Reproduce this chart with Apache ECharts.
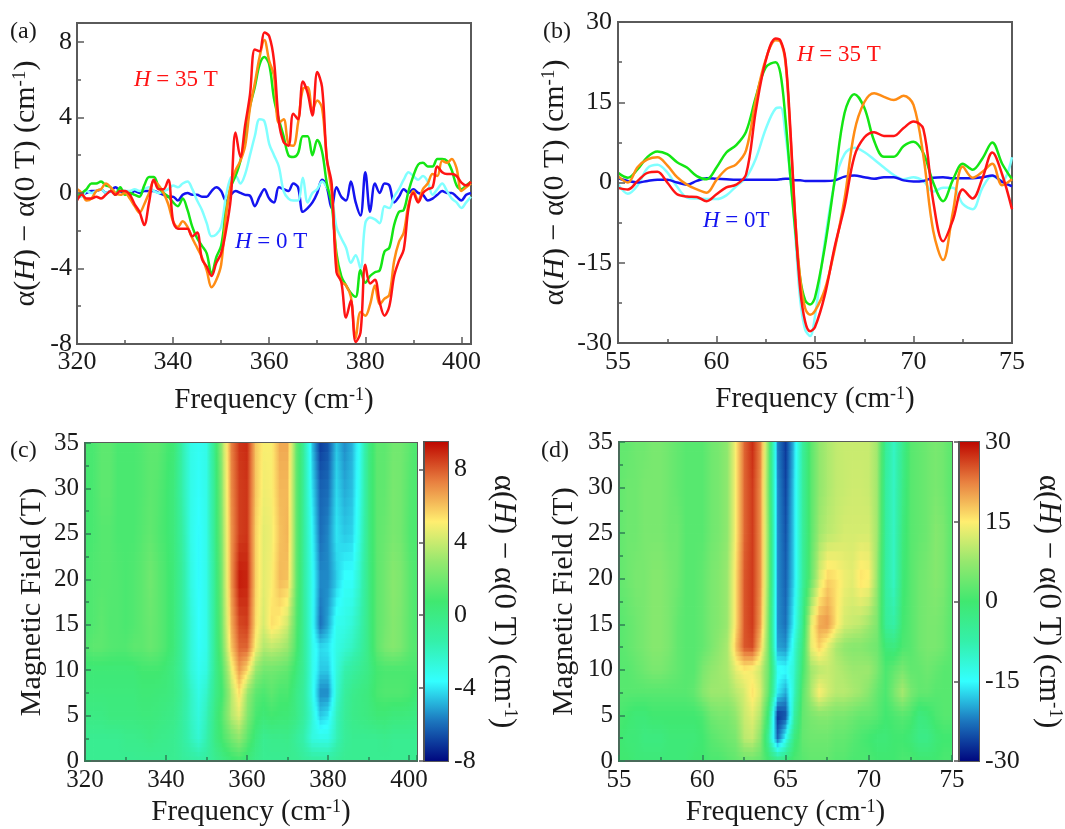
<!DOCTYPE html>
<html><head><meta charset="utf-8">
<script src="https://cdn.jsdelivr.net/npm/echarts@6/dist/echarts.min.js"></script>
<style>html,body{margin:0;padding:0;background:#fff}#c{width:1065px;height:829px}</style>
</head><body><div id="c"></div>
<script>
// ---------- panel (a) ----------
const freqA = [320,321,322,323,324,325,326,327,328,329,330,331,332,333,334,335,336,337,338,339,340,341,342,343,344,345,346,347,348,349,350,351,352,353,354,355,356,357,358,359,360,361,362,363,364,365,366,367,368,369,370,371,372,373,374,375,376,377,378,379,380,381,382,383,384,385,386,387,388,389,390,391,392,393,394,395,396,397,398,399,400,401,402];
const blueA = [-0.3,-0.1,0.0,0.1,0.1,0.2,0.0,0.1,0.3,0.1, 0.0,-0.1,0.1,0.0,0.1,0.1,0.1,0.0,-0.1,-0.2, -0.2,-0.4,-0.1,0.0,-0.1,-0.1,-0.2,-0.2,0.1,0.3, 0.1,-0.4,-0.1,0.1,0.0,-0.1,-0.15,-0.7,-0.2,0.2, -0.3,-0.5,0.3,0.2,0.1,0.5,0.3,-1.0,-0.8,-0.5, 0.0,0.7,0.3,-0.8,0.3,-0.2,-0.4,0.6,-0.5,-1.2, 1.1,-1.0,0.5,0.0,0.5,0.4,-0.5,-0.2,0.2,0.0, 0.2,0.0,-0.1,-0.4,-0.3,-0.1,0.1,0.0,0.0,-0.2, -0.4,-0.1,0.0];
const cyanA = [0.0,-0.2,0.1,0.0,0.1,0.2,0.0,0.1,0.0,0.2, 0.1,0.1,0.2,0.1,0.2,0.3,0.1,0.0,0.1,0.2, 0.4,0.3,0.5,0.6,0.2,-0.4,-0.9,-1.6,-2.3,-2.2, -1.8,-0.2,0.8,0.9,0.5,1.0,2.0,3.0,3.9,3.8, 2.6,2.0,1.4,0.1,-0.3,-0.4,-0.4,0.8,-0.5,0.0, 0.2,0.6,0.3,-0.2,-1.8,-2.4,-2.9,-3.7,-3.3,-4.0, -1.6,-1.3,-1.4,-1.6,-0.7,-0.8,-0.2,0.2,0.7,1.1, 0.9,0.7,0.9,0.6,-0.1,0.2,0.5,0.1,-0.3,-0.5, -0.8,-0.5,-0.2];
const greenA = [-0.2,0.0,0.2,0.5,0.5,0.6,0.4,0.3,-0.1,0.3, -0.1,0.0,-0.1,-0.2,0.4,0.85,0.85,0.3,0.0,-0.2, -0.5,-0.7,-0.3,-0.9,-1.8,-2.4,-2.8,-3.2,-4.3,-3.4, -2.8,-1.0,0.3,0.9,1.7,3.0,4.6,5.6,6.8,7.2, 6.8,5.0,3.9,3.0,2.0,1.9,2.1,3.0,3.0,2.0, 2.8,2.2,0.5,-0.6,-3.2,-4.4,-4.9,-5.3,-5.5,-4.1, -4.75,-4.4,-4.2,-4.1,-3.1,-2.9,-1.7,-1.0,-0.9,0.1, 0.9,1.5,1.6,1.4,1.4,1.8,1.8,1.7,1.2,0.4, 0.2,0.4,0.6];
const orangeA = [0.2,0.0,-0.4,-0.3,0.1,0.2,0.5,0.3,0.0,-0.1, 0.0,-0.3,-0.7,-1.05,-0.6,0.0,0.6,0.4,0.0,-0.6, -1.5,-1.8,-1.5,-1.8,-2.4,-2.9,-3.4,-4.1,-5.0,-4.6, -3.8,-1.2,0.4,1.2,1.7,2.5,4.5,5.8,7.2,8.1, 7.0,6.2,3.7,3.9,2.6,2.5,3.7,5.5,5.6,4.4, 4.9,4.5,1.8,0.0,-3.5,-4.7,-4.9,-5.5,-7.7,-6.3, -6.5,-5.9,-4.9,-5.9,-5.6,-5.4,-3.6,-2.6,-2.1,-0.6, 0.1,-0.4,0.2,0.5,1.0,0.9,1.7,1.6,1.8,1.3, 0.1,0.3,0.5];
const redA = [-0.4,-0.1,-0.3,-0.3,-0.2,-0.3,-0.1,0.1,-0.1,0.1, 0.1,-0.1,-0.6,-1.0,-1.7,-0.5,0.7,0.2,0.2,0.7, -1.5,-1.9,-1.9,-1.9,-2.3,-2.1,-3.5,-3.9,-4.4,-3.7, -3.2,-2.0,-0.3,3.2,1.9,3.6,5.2,7.6,7.5,8.5, 8.3,7.0,3.8,2.7,2.5,4.2,3.9,5.9,5.3,4.1, 6.4,5.6,1.8,0.5,-4.2,-4.7,-6.6,-5.7,-7.9,-7.4, -3.8,-4.8,-4.6,-5.8,-6.5,-6.0,-4.4,-3.6,-3.0,-0.8, 0.0,-0.5,0.0,0.2,0.3,1.4,1.1,1.0,1.0,0.9, 0.55,0.4,0.6];

// ---------- panel (b) ----------
const freqB = [55,55.5,56,56.5,57,57.5,58,58.5,59,59.5,60,60.5,61,61.5,62,62.5,63,63.25,63.5,63.75,64,64.25,64.5,64.75,65,65.5,66,66.5,67,67.5,68,68.5,69,69.5,70,70.5,71,71.5,72,72.5,73,73.5,74,74.5,75];
const blueB = [0.8,0.3,0,0.3,0.5,0.5,0,-0.4,0.3,0.8,0.7,0.6,0.5,0.5,0.5,0.5,0.5,0.6,0.7,0.7,0.4,0.4,0.3,0.3,0.3,0.3,0.4,1.1,1.3,1,0.7,1,1,0.4,0.2,0.3,0.9,1,0.8,0.8,0.8,1,1.3,0.1,-0.7];
const cyanB = [-0.3,-2.1,-0.5,2.7,3.3,1.9,-0.8,-2.8,-3,-3.1,-3.1,-2.4,-0.7,0.9,4.5,10,13.8,14,9,1,-10,-22,-27.5,-28.7,-25,-11,0,5.3,6.5,5.7,4.3,2.8,1.4,0.6,1,0.3,-1.7,-1,-1,-4,-5,-1,1.2,0.3,4.7];
const greenB = [1.8,0.9,2.5,4.8,5.8,5.3,3.8,2.8,1.2,0.6,2.8,5.6,7,9.5,16,21.5,22.5,20.3,12,1,-9,-18,-22,-22.8,-21.5,-12,0.5,13,16.5,14,7.8,4.8,4.8,6.8,7.6,5.5,0,-3.5,0.5,3.5,2.4,4.5,7.5,3.5,0.6];
const orangeB = [1.2,0,2.9,4.3,4.7,3.2,1,-0.4,-1.3,-1.9,0.5,2.5,3.4,6,15.5,23,26.6,26.3,22.5,9,-7,-18,-23.5,-24.7,-24,-20,-12.5,-3,9.5,15,16.7,16,15.4,16.2,14.5,5,-9,-14.5,-5.5,3,0.9,2,3.5,-0.5,0.6];
const redB = [-1,-1.3,0.3,1.8,2,0,-2.2,-2.6,-2.7,-3.5,-2.2,-0.9,-0.4,1.5,13.5,22.8,26.9,26.5,23,10,-7,-20,-26,-27.8,-27,-21,-12,-4.5,4.9,8.4,9.4,8.7,8.7,10.2,11.4,10,-3.5,-11,-7,-1.3,-3,0.8,5.6,1.5,-5];

// ---------- panel (c) ----------
const fieldRows = [0,2.5,5,7.5,10,12.5,15,20,25,30,35];
const freqC = [320,322,324,326,328,330,332,334,336,338,340,342,344,346,348,350,352,354,356,358,360,362,364,366,368,370,372,374,376,378,380,382,384,386,388,390,392,394,396,398,400,402];
const mapC = [
 [-.5,-.5,-.5,-.5,-.5, -.5,-.5,-.5,-.5,-.5, -.5,-.5,-.8,-1,-1.2, -1,-.5,0,.5,.8, .3,-.2,-.5,-.5,-.5, -.5,-.5,-.8,-1,-1, -1,-.8,-.5,-.5,-.5, -.5,-.5,-.5,-.5,-.5, -.5,-.5],
 [-.5,-.5,-.5,-.5,-.5, -.3,-.3,-.2,0,-.2, -.3,-.5,-1,-1.8,-2.5, -1.5,0,1,2,2.8, 1.5,.3,-.5,-.3,-.3, -.2,-.8,-1.5,-2.8,-3, -3,-1.8,-.8,-.5,-.5, -.5,-.5,-.3,-.5,-.5, -.5,-.5],
 [0,0,0,.2,.2, .2,.2,.3,.3,.2, 0,-.2,-1,-2,-2.8, -1.8,0,1.5,3.5,4.5, 2.5,1,.5,.8,.6, .5,0,-1,-2.5,-4.5, -4,-2,-.8,-.2,0, .2,.5,.5,.3,.3, .2,0],
 [.3,.3,.3,.3,.3, .3,.3,.5,.5,.4, .3,0,-.8,-2,-3, -2.2,-.3,1,3.5,5.5, 3,1.5,1,1.5,1, 1,0,-1,-3,-5.5, -5.5,-2.5,-1,-.3,0, .3,1,1.2,1.2,1.2, 1,.5],
 [.5,.5,.5,.5,.5, .5,.5,.8,.8,.8, .5,0,-1,-2.5,-3.3, -2.8,-.5,1.5,4.5,6.8, 5.5,3,2,2,1.8, 1.5,.5,-.8,-3,-4.5, -4.5,-2.8,-1.5,-1,-.5, 0,.8,1,1,1, 1,1],
 [1.2,1.5,1.5,1.3,1.2, 1.2,1.5,1.5,1.8,1.5, 1,.3,-1,-2.5,-3.5, -3,-.5,2.2,5.8,7.8, 7.8,5,3.5,3.8,3.5, 3,1.2,-.8,-3,-4.2, -4,-3,-2.5,-2,-1.2, 0,1.5,2.2,2.5,2.2, 1.5,1.2],
 [1,1.2,1.5,1.2,1.2, 1,1.2,1.5,1.8,1.5, 1,.3,-1,-2.5,-3.6, -3,-.5,2.5,6.3,8.3, 8.5,5.6,4.2,5.5,5, 4,1.5,-.8,-3.2,-6, -5,-3.2,-3,-2.5,-1.5, 0,1.5,2,2.5,2.2, 1.5,1],
 [1,1.2,1.3,1.3,1.2, 1,1.2,1.5,2,1.5, 1,.3,-1,-2.8,-3.7, -3,-.5,2.8,6.8,9.2, 9,5.8,4.5,5,6.2, 6,2,-1,-3.2,-5.5, -5.5,-4.5,-3.5,-3.5,-2, 0,1.5,2,2.6,2.3, 1.5,1],
 [.8,1,1.3,1.3,1, 1,1,1.3,1.6,1.2, .8,.2,-1.2,-3,-3.7, -3,-.3,3,6.8,8.5, 8.7,5.8,4.5,4.8,6, 6.3,2,-1,-3.5,-6, -5.5,-4,-4.5,-4.3,-2.5, 0,1.5,1.8,2.2,2, 1.2,1],
 [.8,1,1.5,1.5,1, 1,1,1.2,1.5,1.3, .8,.2,-1.5,-3,-3.5, -3,-.3,3.2,7,8.5, 8.7,6,4.8,5,6.2, 6.2,2,-1,-4,-6.2, -6,-4.2,-5,-4.6,-2.8, 0,1.5,1.6,2.2,2, 1.3,1],
 [1,1,1.5,1.5,1, 1,1,1.2,1.5,1.5, 1,.5,-1.5,-3,-3.3, -3,0,3.5,7.2,8.7, 8.9,6,5,5,6.5, 6.5,2,-1,-4.5,-7, -6.5,-4.5,-5.5,-4.8,-3, 0,1.5,1.5,2,2, 1.5,1]
];

// ---------- panel (d) ----------
const freqD = [55,55.5,56,56.5,57,57.5,58,58.5,59,59.5,60,60.5,61,61.5,62,62.5,63,63.5,64,64.5,65,65.5,66,66.5,67,67.5,68,68.5,69,69.5,70,70.5,71,71.5,72,72.5,73,73.5,74,74.5,75];
const mapD = [
 [0,0,-1,-1,-1, -1,-1,-1,-1,0, 0,1,1,2,3, 4,4,3,0,-3, -2,1,2,3,3, 3,2,2,1,1, 1,0,0,0,1, 1,0,0,0,1, 1],
 [0,-1,-1,-2,-2, -2,-1,-1,-1,-1, 0,2,3,4,5, 10,11,6,-7,-24, -14,-2,3,4,4, 4,3,3,2,1, 0,-1,-1,0,0, -1,-3,-3,-1,0, 0],
 [1,0,-1,-1,0, 0,0,0,0,0, 1,4,5,5,7, 11,13,9,-3,-27, -25,-7,3,5,6, 6,5,5,4,3, 3,2,0,1,2, 1,-2,-1,1,2, 2],
 [2,2,2,2,2, 2,2,2,2,3, 6,8,8,8,10, 12,16,12,2,-16, -20,-10,2,9,15, 12,10,10,9,8, 6,3,1,5,9, 5,3,3,2,2, 2],
 [2,2,3,4,5, 5,4,3,2,2, 5,7,8,9,13, 15,14,11,3,-14, -15,-11,0,8,10, 11,10,9,8,8, 8,5,1,3,5, 3,3,4,3,2, 2],
 [2,3,4,5,6, 6,5,3,2,2, 3,5,7,9,18, 25,26,17,3,-20, -21,-12,-2,13,17, 13,9,7,6,6, 5,4,-1,-2,1, 2,4,5,5,4, 2],
 [2,3,4,5,6, 6,5,3,2,2, 3,5,6,8,16, 25,27,20,3,-21, -23,-15,-4,13,20, 21,16,12,11,10, 8,5,-5,-7,0, 2,4,5,5,4, 2],
 [3,4,5,5,6, 6,5,4,2,2, 3,5,6,8,16, 25,27,21,4,-21, -24,-17,-6,3,12, 17,16,14,13,16, 15,7,-6,-10,-1, 2,4,5,6,5, 2],
 [3,4,4,5,5, 5,4,4,2,2, 2,4,5,7,15, 24,27,21,4,-21, -25,-17,-6,2,8, 10,11,12,12,12, 12,8,-6,-10,-2, 2,3,4,6,5, 2],
 [3,4,4,5,5, 5,4,3,2,2, 2,4,5,7,15, 24,27,21,3,-21, -26,-17,-6,2,7, 9,10.5,11,11.5,11.5, 11,8,-6,-10,-3, 2,3,4,5,4, 2],
 [3,3,4,4,5, 5,4,3,2,2, 2,4,5,7,15, 24,28,22,3,-22, -27,-18,-6,2,7, 9,10.5,11,11,11, 11,8,-5,-10,-4, 2,3,4,5,4, 2]
];

// ---------- colour scale ----------
const colorStops = [[0,[0,8,127]],[.125,[28,118,190]],[.25,[51,255,255]],[.375,[52,240,170]],[.5,[64,232,112]],[.625,[150,232,110]],[.75,[255,238,112]],[.875,[232,128,64]],[1,[190,8,0]]];
function colorAt(f){
  f=Math.max(0,Math.min(1,f));
  for(let i=1;i<colorStops.length;i++){
    if(f<=colorStops[i][0]){
      const a=colorStops[i-1],b=colorStops[i],t=(f-a[0])/(b[0]-a[0]);
      return 'rgb('+a[1].map((c,k)=>Math.round(c+(b[1][k]-c)*t)).join(',')+')';
    }
  }
  return 'rgb(190,8,0)';
}

const serif='"Liberation Serif","Times New Roman",serif';
const lineColors={blue:'#1414f0',cyan:'#80ffff',green:'#14e614',orange:'#ff8c14',red:'#ff1414'};
const titleRich=s=>({b:{fontFamily:serif,fontSize:s,color:'#1a1a1a'},i:{fontFamily:serif,fontSize:s,fontStyle:'italic',color:'#1a1a1a'},s:{fontFamily:serif,fontSize:Math.round(s*.62),color:'#1a1a1a',verticalAlign:'top'}});
const freqTitle='{b|Frequency (cm}{s|-1}{b|)}';
const alphaTitle='{b|α(}{i|H}{b|) − α(0 T) (cm}{s|-1}{b|)}';

const grids=[
 {left:77,top:23,width:394,height:321},
 {left:618,top:22,width:394,height:321},
 {left:85,top:443,width:332,height:318},
 {left:619,top:442,width:333,height:319},
 {left:424,top:442,width:24,height:319},
 {left:959,top:442,width:24,height:319}
].map(g=>Object.assign(g,{show:true,borderColor:'#5a5a5a',borderWidth:2,backgroundColor:'transparent'}));

function axis(o){
  return Object.assign({
    type:'value',scale:false,z:5,splitLine:{show:false},
    axisLine:{show:true,onZero:false,lineStyle:{color:'#5a5a5a',width:2}},
    axisTick:{show:true,inside:true,length:7,lineStyle:{color:'#5a5a5a',width:1.5}},
    minorTick:{show:true,splitNumber:2,length:4,lineStyle:{color:'#5a5a5a',width:1.5}},
    axisLabel:{fontFamily:serif,fontSize:26,color:'#1a1a1a',showMaxLabel:false,margin:5}
  },o);
}
const heatTick={axisTick:{show:true,inside:true,length:6,lineStyle:{color:'#2f7f55',width:1.5}},
  minorTick:{show:true,splitNumber:2,length:4,lineStyle:{color:'#2f7f55',width:1.5}},
  axisLine:{show:true,onZero:false,lineStyle:{color:'#4a6a5a',width:2}}};
const xAxes=[
 axis({gridIndex:0,min:320,max:402,interval:20,name:freqTitle,nameLocation:'middle',nameGap:42,nameTextStyle:{rich:titleRich(29)}}),
 axis({gridIndex:1,min:55,max:75,interval:5,name:freqTitle,nameLocation:'middle',nameGap:42,nameTextStyle:{rich:titleRich(29)},axisLabel:{fontFamily:serif,fontSize:26,color:'#1a1a1a',margin:6}}),
 axis(Object.assign({gridIndex:2,min:320,max:402,interval:20,name:freqTitle,nameLocation:'middle',nameGap:37,nameTextStyle:{rich:titleRich(29)},axisLabel:{fontFamily:serif,fontSize:25,color:'#1a1a1a',showMaxLabel:false,margin:7}},heatTick)),
 axis(Object.assign({gridIndex:3,min:55,max:75,interval:5,name:freqTitle,nameLocation:'middle',nameGap:37,nameTextStyle:{rich:titleRich(29)},axisLabel:{fontFamily:serif,fontSize:25,color:'#1a1a1a',margin:7}},heatTick)),
 {type:'value',gridIndex:4,min:0,max:1,show:false},
 {type:'value',gridIndex:5,min:0,max:1,show:false}
];
const yAxes=[
 axis({gridIndex:0,min:-8,max:9,interval:4,name:alphaTitle,nameLocation:'middle',nameGap:36,nameTextStyle:{rich:titleRich(30)}}),
 axis({gridIndex:1,min:-30,max:30,interval:15,name:alphaTitle,nameLocation:'middle',nameGap:48,nameTextStyle:{rich:titleRich(30)},axisLabel:{fontFamily:serif,fontSize:26,color:'#1a1a1a',margin:6}}),
 axis(Object.assign({gridIndex:2,min:0,max:35,interval:5,name:'Magnetic Field (T)',nameLocation:'middle',nameGap:38,nameTextStyle:{fontFamily:serif,fontSize:30,color:'#1a1a1a'},axisLabel:{fontFamily:serif,fontSize:25,color:'#1a1a1a',margin:6}},heatTick)),
 axis(Object.assign({gridIndex:3,min:0,max:35,interval:5,name:'Magnetic Field (T)',nameLocation:'middle',nameGap:40,nameTextStyle:{fontFamily:serif,fontSize:30,color:'#1a1a1a'},axisLabel:{fontFamily:serif,fontSize:25,color:'#1a1a1a',margin:6}},heatTick)),
 axis({gridIndex:4,min:-8,max:9.5,interval:4,position:'right',name:alphaTitle,nameLocation:'middle',nameRotate:-90,nameGap:40,nameTextStyle:{rich:titleRich(31)},axisLine:{show:true,lineStyle:{color:'#555',width:2}},axisTick:{show:true,inside:true,length:5,lineStyle:{color:'#555',width:1.5}},minorTick:{show:false},axisLabel:{fontFamily:serif,fontSize:26,color:'#1a1a1a',showMaxLabel:false,margin:6}}),
 axis({gridIndex:5,min:-30,max:30,interval:15,position:'right',name:alphaTitle,nameLocation:'middle',nameRotate:-90,nameGap:54,nameTextStyle:{rich:titleRich(31)},axisLine:{show:true,lineStyle:{color:'#555',width:2}},axisTick:{show:true,inside:true,length:5,lineStyle:{color:'#555',width:1.5}},minorTick:{show:false},axisLabel:{fontFamily:serif,fontSize:26,color:'#1a1a1a',margin:6}})
];

function lineSeries(name,xs,ys,color,g){
  return {name,type:'line',xAxisIndex:g,yAxisIndex:g,data:xs.map((x,i)=>[x,ys[i]]),smooth:.35,showSymbol:false,symbol:'none',
    lineStyle:{color,width:2.5},itemStyle:{color},animation:false,z:3,clip:true};
}
function heatSeries(name,xs,rows,field,min,max,g){
  const cells=[];
  for(let j=0;j<field.length-1;j++)for(let i=0;i<xs.length-1;i++){
    cells.push([xs[i],xs[i+1],field[j],field[j+1],rows[j][i],rows[j][i+1],rows[j+1][i],rows[j+1][i+1]]);
  }
  const frac=v=>(v-min)/(max-min);
  const strips=5;
  return {name,type:'custom',xAxisIndex:g,yAxisIndex:g,coordinateSystem:'cartesian2d',data:cells,animation:false,silent:true,clip:true,z:2,
    encode:{x:[0,1],y:[2,3]},
    renderItem(params,api){
      const c=cells[params.dataIndex];
      const a=api.coord([c[0],c[3]]),b=api.coord([c[1],c[2]]);
      const w=b[0]-a[0],h=b[1]-a[1],children=[];
      for(let s=0;s<strips;s++){
        const t=(s+.5)/strips;                       // 0 at upper field, 1 at lower field
        const vL=c[6]+(c[4]-c[6])*t,vR=c[7]+(c[5]-c[7])*t;
        const stops=[0,.25,.5,.75,1].map(o=>({offset:o,color:colorAt(frac(vL+(vR-vL)*o))}));
        children.push({type:'rect',shape:{x:a[0],y:a[1]+h*s/strips,width:w+.8,height:h/strips+.8},
          style:{fill:new echarts.graphic.LinearGradient(0,0,1,0,stops)}});
      }
      return {type:'group',children};
    }};
}
function barSeries(name,min,max,g){
  return {name,type:'custom',xAxisIndex:g,yAxisIndex:g,coordinateSystem:'cartesian2d',data:[[0,1,min,max]],animation:false,silent:true,z:2,
    renderItem(params,api){
      const a=api.coord([0,max]),b=api.coord([1,min]);
      return {type:'rect',shape:{x:a[0],y:a[1],width:b[0]-a[0],height:b[1]-a[1]},
        style:{fill:new echarts.graphic.LinearGradient(0,1,0,0,colorStops.map(s=>({offset:s[0],color:colorAt(s[0])})))}};
    }};
}
const label=(x,y,t)=>({type:'text',left:x,top:y,z:20,style:{text:t,font:'24px '+serif,fill:'#1a1a1a'}});
const note=(x,y,t,color)=>({type:'text',left:x,top:y,z:20,style:{text:t,fill:color,font:'23px '+serif,
  rich:{i:{fontFamily:serif,fontSize:23,fontStyle:'italic',fill:color,color},r:{fontFamily:serif,fontSize:23,fill:color,color}}}});

const chart=echarts.init(document.getElementById('c'),null,{renderer:'canvas'});
chart.setOption({
  animation:false,backgroundColor:'#fff',
  grid:grids,xAxis:xAxes,yAxis:yAxes,
  graphic:[
    label(10,20,'(a)'),label(543,20,'(b)'),label(10,439,'(c)'),label(541,439,'(d)'),
    note(134,68,'{i|H}{r| = 35 T}','#ff1414'),
    note(797,43,'{i|H}{r| = 35 T}','#ff1414'),
    note(235,230,'{i|H}{r| = 0 T}','#1414f0'),
    note(703,209,'{i|H}{r| = 0T}','#1414f0')
  ],
  series:[
    lineSeries('0 T',freqA,blueA,lineColors.blue,0),
    lineSeries('cyan',freqA,cyanA,lineColors.cyan,0),
    lineSeries('green',freqA,greenA,lineColors.green,0),
    lineSeries('orange',freqA,orangeA,lineColors.orange,0),
    lineSeries('35 T',freqA,redA,lineColors.red,0),
    lineSeries('cyan',freqB,cyanB,lineColors.cyan,1),
    lineSeries('0 T',freqB,blueB,lineColors.blue,1),
    lineSeries('green',freqB,greenB,lineColors.green,1),
    lineSeries('orange',freqB,orangeB,lineColors.orange,1),
    lineSeries('35 T',freqB,redB,lineColors.red,1),
    heatSeries('map c',freqC,mapC,fieldRows,-8,9.5,2),
    heatSeries('map d',freqD,mapD,fieldRows,-30,30,3),
    barSeries('scale c',-8,9.5,4),
    barSeries('scale d',-30,30,5)
  ]
});
</script></body></html>
